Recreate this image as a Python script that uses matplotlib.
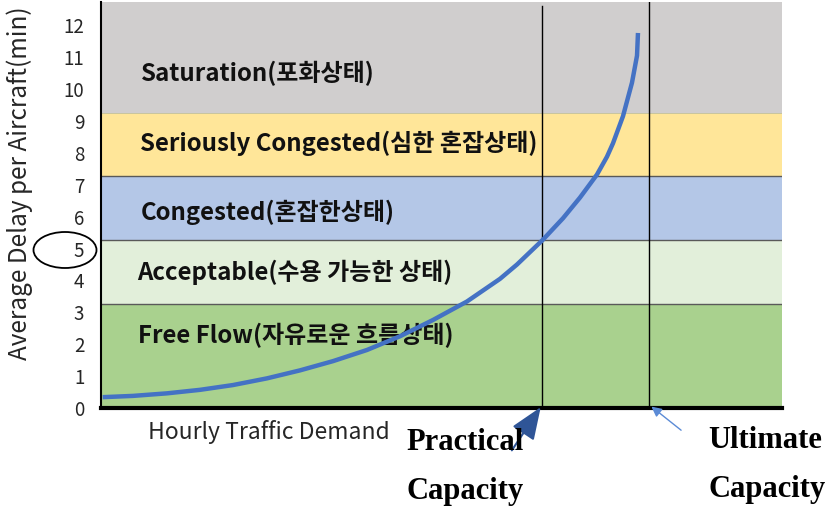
import matplotlib
matplotlib.use("Agg")
import matplotlib.pyplot as plt
from matplotlib.patches import Ellipse

plt.rcParams['font.family'] = ['Noto Sans CJK KR', 'DejaVu Sans']

# level-of-service bands (bottom to top)
band_names = ["Free Flow(자유로운 흐름상태)", "Acceptable(수용 가능한 상태)",
              "Congested(혼잡한상태)", "Seriously Congested(심한 혼잡상태)",
              "Saturation(포화상태)"]
band_edges = [0, 3.26, 5.27, 7.27, 9.25, 12.73]
band_colors = ["#A9D18E", "#E2EFDA", "#B4C7E7", "#FFE699", "#D0CECE"]
label_y = [2.26, 4.26, 6.14, 8.3, 10.5]
label_x = [5.4, 5.3, 5.8, 5.8, 5.8]

# delay curve
demand = [0.25, 4.70, 9.69, 14.54, 19.38, 24.38, 29.22, 34.07, 39.06, 43.91,
          48.75, 53.74, 58.59, 61.09, 64.86, 67.84, 70.34, 72.83, 74.30, 75.18,
          76.65, 77.97, 78.71, 78.85]
delay = [0.34, 0.38, 0.46, 0.57, 0.72, 0.93, 1.18, 1.47, 1.82, 2.25,
         2.76, 3.34, 4.05, 4.50, 5.27, 5.95, 6.60, 7.32, 7.88, 8.30,
         9.15, 10.20, 11.05, 11.76]

practical_cap = 64.8
ultimate_cap = 80.5
yticks = list(range(0, 13))

fig = plt.figure(figsize=(8.27, 5.09), dpi=100)
ax = fig.add_axes([0.1221, 0.1984, 0.8235, 0.7976])
ax.set_xlim(0, 100)
ax.set_ylim(0, 12.73)

for i in range(len(band_names)):
    ax.axhspan(band_edges[i], band_edges[i + 1], color=band_colors[i], lw=0, zorder=0)
    ax.text(label_x[i], label_y[i], band_names[i], fontsize=17.3, fontweight='bold',
            color='#111111', va='center', ha='left', zorder=3)
for e in band_edges[1:4]:
    ax.axhline(e, color='#595959', lw=1.0, zorder=1)
ax.axhline(band_edges[4], color='#BFBFA0', lw=0.6, zorder=1)

ax.axvline(practical_cap, ymax=0.99, color='black', lw=1.0, zorder=2)
ax.axvline(ultimate_cap, color='black', lw=1.0, zorder=2)

ax.plot(demand, delay, color='#4472C4', lw=3.2, solid_capstyle='butt',
        solid_joinstyle='round', zorder=4)

for s in ['top', 'right']:
    ax.spines[s].set_visible(False)
ax.spines['left'].set_linewidth(1.5)
ax.spines['bottom'].set_linewidth(3)
ax.set_xticks([])
ax.set_yticks(yticks)
ax.tick_params(axis='y', length=0, pad=12, labelsize=13.5, labelcolor='#262626')
ax.set_ylabel("Average Delay per Aircraft(min)", fontsize=17.5, color='#262626')
ax.yaxis.set_label_coords(-0.1, 0.554)

# circle around tick 5
fig.add_artist(Ellipse((65 / 827, 1 - 250 / 509), 63 / 827, 36 / 509,
                       transform=fig.transFigure, fill=False, ec='black', lw=1.3))

fig.text(148 / 827, 1 - 432 / 509, "Hourly Traffic Demand", fontsize=16.5,
         color='#262626', va='center', ha='left')

ax.annotate("", xy=(practical_cap, 0.1), xytext=(60.1, -1.4),
            arrowprops=dict(arrowstyle="-|>,head_length=2.0,head_width=0.8",
                            color='#2F5597', lw=1.5), annotation_clip=False, zorder=5)
ax.annotate("", xy=(ultimate_cap, 0.1), xytext=(85.5, -0.75),
            arrowprops=dict(arrowstyle="-|>,head_length=0.6,head_width=0.3",
                            color='#5B8BD6', lw=1.0), annotation_clip=False, zorder=5)

for x, y, s in [(406, 442, "Practical"), (406, 491, "Capacity"),
                (708, 440, "Ultimate"), (708, 489, "Capacity")]:
    fig.text(x / 827, 1 - y / 509, s, family='Liberation Serif',
             fontweight='bold', fontsize=22, va='center', ha='left')

fig.savefig("out.png", dpi=100)
